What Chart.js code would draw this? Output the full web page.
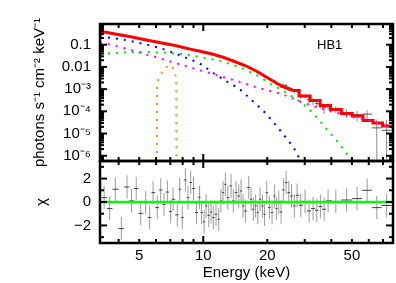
<!DOCTYPE html>
<html>
<head>
<meta charset="utf-8">
<script src="https://cdn.jsdelivr.net/npm/chart.js@4.4.1/dist/chart.umd.min.js"></script>
<style>
  html, body { margin: 0; padding: 0; background: #fff; }
  #wrap { position: relative; width: 396px; height: 283px; overflow: hidden; }
  #wrap canvas { position: absolute; left: 0; top: 0; }
</style>
</head>
<body>
<div id="wrap">
  <canvas id="resid" width="396" height="283"></canvas>
  <canvas id="spec" width="396" height="283"></canvas>
</div>
<script>
// HB1 spectrum: unfolded model + components (top), residuals in chi (bottom)

// axes
const energyRange = [3.27, 78];
const energyTicks = [5, 10, 20, 50];
const energyTickLabels = ['5', '10', '20', '50'];
const energyTickMarks = [4, 5, 6, 7, 8, 9, 10, 20, 30, 40, 50, 60, 70];
const energyMajorMarks = [10];

const fluxRange = [5.8e-7, 0.855];
const fluxTicks = [1e-6, 1e-5, 1e-4, 1e-3, 0.01, 0.1];
const fluxTickLabels = ['10⁻⁶', '10⁻⁵', '10⁻⁴', '10⁻³', '0.01', '0.1'];

const chiRange = [-3.5, 3.5];
const chiTicks = [-2, 0, 2];
const chiTickLabels = ['−2', '0', '2'];
const chiTickMarks = [-3, -2, -1, 0, 1, 2, 3];

const panelLabel = 'HB1';

// data bins (keV)
const binE = [3.42, 3.63, 3.86, 4.12, 4.38, 4.60, 4.84, 5.08, 5.36, 5.60,
  5.81, 6.08, 6.31, 6.54, 6.78, 7.03, 7.21, 7.55, 7.75, 7.97,
  8.24, 8.48, 8.73, 9.00, 9.30, 9.61, 9.82, 10.09, 10.31, 10.61,
  10.88, 11.15, 11.48, 11.82, 12.10, 12.39, 12.70, 13.04, 13.51, 13.85,
  14.26, 14.69, 15.06, 15.39, 15.78, 16.37, 16.78, 17.20, 17.62, 18.04,
  18.50, 19.00, 19.42, 19.89, 20.46, 21.06, 21.60, 22.07, 22.65, 23.22,
  23.81, 24.51, 25.24, 26.02, 26.81, 27.61, 28.74, 30.11, 31.45, 32.84,
  34.18, 35.54, 37.00, 38.63, 42.01, 47.21, 52.88, 58.94, 65.46, 72.8];

// photons s^-1 cm^-2 keV^-1
const flux = [0.378, 0.335, 0.308, 0.255, 0.251, 0.223, 0.206, 0.18, 0.166, 0.148,
  0.146, 0.129, 0.125, 0.114, 0.110, 0.098, 0.0966, 0.0846, 0.0842, 0.0735,
  0.0753, 0.065, 0.064, 0.0596, 0.052, 0.0518, 0.0472, 0.0429, 0.0434, 0.0391,
  0.0377, 0.035, 0.0326, 0.0292, 0.0291, 0.0279, 0.0265, 0.0233, 0.0211, 0.0183,
  0.0173, 0.0153, 0.0143, 0.0122, 0.0109, 0.0105, 0.0089, 0.0075, 0.00667, 0.00562,
  0.00529, 0.00438, 0.00359, 0.00362, 0.00278, 0.00229, 0.00221, 0.00179, 0.00159, 0.00126,
  1.5e-3, 1.45e-3, 1.14e-3, 9.8e-4, 7.8e-4, 8.4e-4, 4.8e-4, 4.96e-4, 3.35e-4, 2.84e-4,
  2.26e-4, 2.09e-4, 1.47e-4, 1.71e-4, 1.23e-4, 8.6e-5, 7.1e-5, 7.5e-5, 1.8e-5, 1.4e-5];

const fluxErr = [0.0094, 0.0085, 0.0075, 0.0068, 0.0061, 0.0056, 0.005, 0.0046, 0.0042, 0.0038,
  0.0036, 0.0033, 0.0031, 0.0029, 0.0027, 0.0025, 0.0024, 0.0022, 0.0021, 0.0019,
  0.0028, 0.0026, 0.0024, 0.0023, 0.0022, 0.002, 0.002, 0.0018, 0.0018, 0.0016,
  0.0016, 0.0015, 0.0014, 0.0012, 0.0012, 0.0011, 0.001, 0.00092, 0.0008, 0.00073,
  0.00099, 0.00089, 0.00081, 0.00075, 0.00068, 0.00059, 0.00053, 0.00047, 0.00041, 4.2e-4,
  3.8e-4, 3.4e-4, 3.0e-4, 2.8e-4, 2.5e-4, 2.3e-4, 2.1e-4, 2.0e-4, 1.8e-4, 1.7e-4,
  2.0e-4, 1.8e-4, 1.7e-4, 1.6e-4, 1.5e-4, 1.5e-4, 1.3e-4, 1.2e-4, 1.1e-4, 1.0e-4,
  9e-5, 8e-5, 7e-5, 6e-5, 4e-5, 3.5e-5, 3.5e-5, 3.5e-5, 2.5e-5, 2.7e-5];

// residuals (data - model) / error
const chi = [0.37, -0.56, 1.09, -2.27, 1.28, 0.10, 1.15, -0.97, -0.05, -1.33,
  0.80, -0.48, 1.03, -0.20, 0.85, -0.82, 0.23, -1.10, 1.09, -1.33,
  1.88, 0.37, 1.66, 1.15, -0.90, 0.40, -0.90, -1.70, -0.34, -1.14,
  -0.85, -1.33, -1.05, -1.48, 0.09, 0.80, 1.51, 0.37, 1.37, 0.09,
  0.80, 0.51, 0.94, -0.34, -0.77, 1.23, 0.23, -0.62, -0.34, -0.90,
  0.23, -0.34, -1.05, 0.80, -0.48, -0.90, 0.51, -0.56, -0.05, -0.85,
  1.03, 1.66, 0.80, 0.51, -0.34, 0.57, -0.28, 0.05, -0.77, -0.56,
  -0.71, -0.39, -0.62, 0.10, 0.05, 0.17, 0.29, 1.00, -0.48, -0.30];

// total model: smooth part, then wide binned steps
const modelLowE = [3.27, 3.85, 4.43, 5.32, 6.40, 7.37, 8.67, 9.66, 11.0, 12.39, 13.81, 15.73, 17.91, 19.95, 22.24, 24.25, 26.45];
const modelLow = [0.40, 0.303, 0.239, 0.168, 0.119, 0.092, 0.063, 0.0505, 0.0381, 0.0271, 0.01845, 0.01156, 0.00621, 0.00333, 0.00179, 0.00118, 8.65e-4];
const modelStepE = [26.45, 30.11, 33.56, 37.40, 42.04, 47.31, 53.17, 59.77, 66.04, 73.4, 78];
const modelStep = [8.65e-4, 4.9e-4, 3.06e-4, 1.82e-4, 1.21e-4, 7.96e-5, 6.14e-5, 3.85e-5, 2.97e-5, 2.18e-5, 2.18e-5];

// model components
const blueE = [3.27, 3.39, 4.06, 4.78, 5.62, 6.61, 7.63, 8.98, 9.84, 11.15, 12.93, 14.9, 16.9, 19.2, 21.4, 23.8, 26.5, 27.5, 28.5, 29.5];
const blueFlux = [0.234, 0.222, 0.181, 0.132, 0.094, 0.0595, 0.0355, 0.019, 0.0126, 0.0053, 0.0022, 9.6e-4, 3.2e-4, 1.03e-4, 3.2e-5, 9.2e-6, 2.5e-6, 1.3e-6, 6.4e-7, 2.5e-7];

const greenE = [3.27, 3.39, 4.37, 5.32, 6.61, 7.93, 9.84, 12.0, 15.2, 18.2, 21.0, 24.3, 27.5, 31.2, 34.8, 38.7, 43.2, 48.1, 51.7];
const greenFlux = [0.038, 0.039, 0.0455, 0.047, 0.0436, 0.038, 0.027, 0.019, 0.0089, 0.0038, 0.0016, 7.4e-4, 3.4e-4, 1.37e-4, 4.4e-5, 1.3e-5, 3.9e-6, 9.8e-7, 2.9e-7];

const magentaE = [3.27, 3.39, 3.70, 3.98, 4.37, 4.78, 5.56, 6.04, 7.11, 8.36, 9.84, 11.6, 14.9, 18.2, 23.4, 29.6, 35.4, 46.4, 60.8, 78];
const magentaFlux = [0.126, 0.119, 0.1, 0.082, 0.064, 0.05, 0.0333, 0.027, 0.0166, 0.0106, 0.0067, 0.0042, 0.0021, 0.00112, 6.0e-4, 2.4e-4, 1.36e-4, 6.8e-5, 3.65e-5, 1.8e-5];

const ironE = [6.04, 6.07, 6.15, 6.31, 6.61, 6.85, 7.13, 7.36, 7.46, 7.50];
const ironFlux = [1e-12, 1.12e-3, 2.57e-3, 4.8e-3, 8.0e-3, 0.0122, 0.0105, 0.0059, 0.0026, 1e-12];

const FONT = '"Liberation Sans", Arial, Helvetica, sans-serif';
Chart.defaults.font.family = FONT;
Chart.defaults.font.size = 15;
Chart.defaults.color = '#000';

function pts(xs, ys) {
    return xs.map((x, i) => ({ x: x, y: ys[i] }));
}

// crosses: horizontal bar over the bin, vertical bar over the error
function errorBars(xs, ys, errs, floor) {
    const h = [], v = [];
    xs.forEach((e, i) => {
        const hi = i < xs.length - 1 ? Math.sqrt(e * xs[i + 1]) : e * e / Math.sqrt(xs[i - 1] * e);
        const lo = i > 0 ? Math.sqrt(xs[i - 1] * e) : e * e / Math.sqrt(e * xs[i + 1]);
        const err = Array.isArray(errs) ? errs[i] : errs;
        h.push({ x: lo, y: ys[i] }, { x: hi, y: ys[i] }, { x: e, y: null });
        v.push({ x: e, y: Math.max(ys[i] - err, floor) }, { x: e, y: ys[i] + err }, { x: e, y: null });
    });
    return { h, v };
}

function lineSet(data, color, width, extra) {
    return Object.assign({
        data: data,
        borderColor: color,
        borderWidth: width,
        pointRadius: 0,
        pointHoverRadius: 0,
        fill: false,
        tension: 0,
        spanGaps: false
    }, extra || {});
}

const DOTS = [2, 6];

// frame with inward ticks on all four sides
const frameTicks = {
    id: 'frameTicks',
    afterDatasetsDraw(chart, args, opts) {
        const { ctx, chartArea: a, scales } = chart;
        const seg = (x1, y1, x2, y2) => { ctx.beginPath(); ctx.moveTo(x1, y1); ctx.lineTo(x2, y2); ctx.stroke(); };
        ctx.save();
        ctx.strokeStyle = '#000';
        ctx.lineWidth = 2;
        opts.xMarks.forEach(v => {
            const x = scales.x.getPixelForValue(v);
            if (x <= a.left + 1 || x >= a.right - 1) return;
            const len = opts.xMajor.includes(v) ? 7 : 4;
            seg(x, a.top, x, a.top + len);
            seg(x, a.bottom, x, a.bottom - len);
        });
        opts.yMarks.forEach(v => {
            const y = scales.y.getPixelForValue(v);
            if (y <= a.top + 1 || y >= a.bottom - 1) return;
            const len = opts.yMajor.includes(v) ? 7 : 4;
            seg(a.left, y, a.left + len, y);
            seg(a.right, y, a.right - len, y);
        });
        ctx.lineWidth = 2.5;
        ctx.strokeRect(a.left, a.top, a.right - a.left, a.bottom - a.top);
        ctx.restore();
    }
};

const panelText = {
    id: 'panelText',
    afterDraw(chart, args, opts) {
        if (!opts.text) return;
        const { ctx, scales } = chart;
        ctx.save();
        ctx.font = '13px ' + FONT;
        ctx.fillStyle = '#000';
        ctx.textAlign = 'center';
        ctx.textBaseline = 'middle';
        ctx.fillText(opts.text, scales.x.getPixelForValue(opts.at[0]), scales.y.getPixelForValue(opts.at[1]));
        ctx.restore();
    }
};

// log minor marks 2..9 per decade
const fluxMarks = [];
for (let d = -7; d <= 0; d++) {
    for (let m = 1; m <= 9; m++) fluxMarks.push(m * Math.pow(10, d));
}

const specBars = errorBars(binE, flux, fluxErr, fluxRange[0] / 100);
const chiBars = errorBars(binE, chi, 1, chiRange[0] - 1);

const specChart = new Chart(document.getElementById('spec'), {
    type: 'line',
    data: {
        datasets: [
            lineSet(specBars.v, '#8c8c8c', 1, { order: 7 }),
            lineSet(specBars.h, '#505050', 1, { order: 6 }),
            lineSet(pts(modelLowE, modelLow), '#ff0000', 3, { order: 5 }),
            lineSet(pts(modelStepE, modelStep), '#ff0000', 3, { order: 5, stepped: 'middle' }),
            lineSet(pts(magentaE, magentaFlux), '#ff00ff', 2, { order: 4, borderDash: DOTS }),
            lineSet(pts(greenE, greenFlux), '#00e000', 2, { order: 3, borderDash: DOTS }),
            lineSet(pts(blueE, blueFlux), '#0000ff', 2, { order: 2, borderDash: DOTS }),
            lineSet(pts(ironE, ironFlux), '#ff8c1a', 2, { order: 1, borderDash: DOTS })
        ]
    },
    options: {
        responsive: false,
        animation: false,
        events: [],
        layout: { autoPadding: false, padding: { left: 0, top: 24, right: 3, bottom: 122 } },
        plugins: {
            legend: { display: false },
            tooltip: { enabled: false },
            frameTicks: { xMarks: energyTickMarks, xMajor: energyMajorMarks, yMarks: fluxMarks, yMajor: fluxTicks },
            panelText: { text: panelLabel, at: [39.3, 0.097] }
        },
        scales: {
            x: { type: 'logarithmic', min: energyRange[0], max: energyRange[1], display: false },
            y: {
                type: 'logarithmic',
                min: fluxRange[0],
                max: fluxRange[1],
                afterFit: s => { s.width = 100; },
                afterBuildTicks: s => { s.ticks = fluxTicks.map(v => ({ value: v })); },
                grid: { display: false, drawTicks: false },
                border: { display: false },
                ticks: { padding: 9, color: '#000', callback: (v, i) => fluxTickLabels[i] },
                title: {
                    display: true,
                    text: 'photons s⁻¹ cm⁻² keV⁻¹',
                    color: '#000',
                    padding: { top: 31, bottom: 0 }
                }
            }
        }
    },
    plugins: [frameTicks, panelText]
});

const residChart = new Chart(document.getElementById('resid'), {
    type: 'line',
    data: {
        datasets: [
            lineSet(chiBars.v, '#9a9a9a', 1, { order: 3 }),
            lineSet(chiBars.h, '#404040', 1, { order: 2 }),
            lineSet(pts(energyRange, [0, 0]), '#00ff00', 2.5, { order: 1 })
        ]
    },
    options: {
        responsive: false,
        animation: false,
        events: [],
        layout: { autoPadding: false, padding: { left: 0, top: 161, right: 3, bottom: 0 } },
        plugins: {
            legend: { display: false },
            tooltip: { enabled: false },
            frameTicks: { xMarks: energyTickMarks, xMajor: energyMajorMarks, yMarks: chiTickMarks, yMajor: chiTicks },
            panelText: { text: '' }
        },
        scales: {
            x: {
                type: 'logarithmic',
                min: energyRange[0],
                max: energyRange[1],
                afterFit: s => { s.height = 40; },
                afterBuildTicks: s => { s.ticks = energyTicks.map(v => ({ value: v })); },
                grid: { display: false, drawTicks: false },
                border: { display: false },
                ticks: { padding: 4, color: '#000', autoSkip: false, maxRotation: 0, callback: (v, i) => energyTickLabels[i] },
                title: { display: true, text: 'Energy (keV)', color: '#000', padding: { top: 0, bottom: 1 } }
            },
            y: {
                type: 'linear',
                min: chiRange[0],
                max: chiRange[1],
                afterFit: s => { s.width = 100; },
                afterBuildTicks: s => { s.ticks = chiTicks.map(v => ({ value: v })); },
                grid: { display: false, drawTicks: false },
                border: { display: false },
                ticks: { padding: 9, color: '#000', callback: (v, i) => chiTickLabels[i] },
                title: { display: true, text: 'χ', color: '#000', padding: { top: 33, bottom: 0 } }
            }
        }
    },
    plugins: [frameTicks, panelText]
});
</script>
</body>
</html>
